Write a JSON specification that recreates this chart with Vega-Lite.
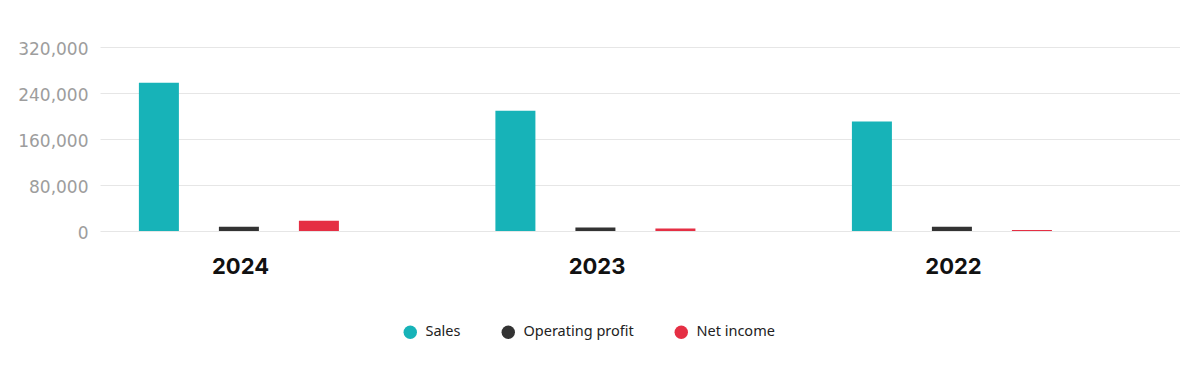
{
  "$schema": "https://vega.github.io/schema/vega-lite/v6.json",
  "width": 1080,
  "height": 184,
  "autosize": {"type": "none"},
  "padding": {"left": 100, "top": 47, "right": 0, "bottom": 143},
  "background": "white",
  "data": {
    "values": [
      {"year": "2024", "series": "Sales", "value": 258000},
      {"year": "2024", "series": "Operating profit", "value": 7500},
      {"year": "2024", "series": "Net income", "value": 17900},
      {"year": "2023", "series": "Sales", "value": 209000},
      {"year": "2023", "series": "Operating profit", "value": 6000},
      {"year": "2023", "series": "Net income", "value": 4300},
      {"year": "2022", "series": "Sales", "value": 190500},
      {"year": "2022", "series": "Operating profit", "value": 7600},
      {"year": "2022", "series": "Net income", "value": 1800}
    ]
  },
  "mark": {"type": "bar"},
  "encoding": {
    "x": {
      "field": "year",
      "type": "nominal",
      "sort": ["2024", "2023", "2022"],
      "scale": {"paddingInner": 0, "paddingOuter": 0.0147},
      "axis": {
        "title": null,
        "labelAngle": 0,
        "domain": false,
        "ticks": false,
        "labelOffset": -43,
        "labelPadding": 25,
        "labelFont": "Inter",
        "labelFontSize": 22,
        "labelFontWeight": "bold",
        "labelColor": "#111111"
      }
    },
    "xOffset": {
      "field": "series",
      "type": "nominal",
      "scale": {
        "domain": ["Sales", "Operating profit", "Net income", "_"],
        "paddingInner": 0.5,
        "paddingOuter": 0.478,
        "align": 0.44
      }
    },
    "y": {
      "field": "value",
      "type": "quantitative",
      "scale": {"domain": [0, 320000], "nice": false},
      "axis": {
        "title": null,
        "values": [0, 80000, 160000, 240000, 320000],
        "format": ",.0f",
        "domain": false,
        "ticks": false,
        "grid": true,
        "gridColor": "#e6e6e6",
        "gridWidth": 1,
        "labelPadding": 12,
        "labelOffset": 2,
        "labelFont": "DejaVu Sans",
        "labelFontSize": 17,
        "labelColor": "#9d9d9d"
      }
    },
    "color": {
      "field": "series",
      "type": "nominal",
      "scale": {
        "domain": ["Sales", "Operating profit", "Net income"],
        "range": ["#17b3b8", "#333333", "#e52f44"]
      },
      "legend": {
        "title": null,
        "orient": "none",
        "direction": "horizontal",
        "legendX": 303,
        "legendY": 278,
        "symbolType": "circle",
        "symbolSize": 180,
        "symbolStrokeWidth": 0,
        "labelFont": "Noto Sans",
        "labelFontSize": 14.5,
        "labelColor": "#222222",
        "labelOffset": 8,
        "columnPadding": 40
      }
    }
  },
  "config": {"view": {"stroke": null}}
}
